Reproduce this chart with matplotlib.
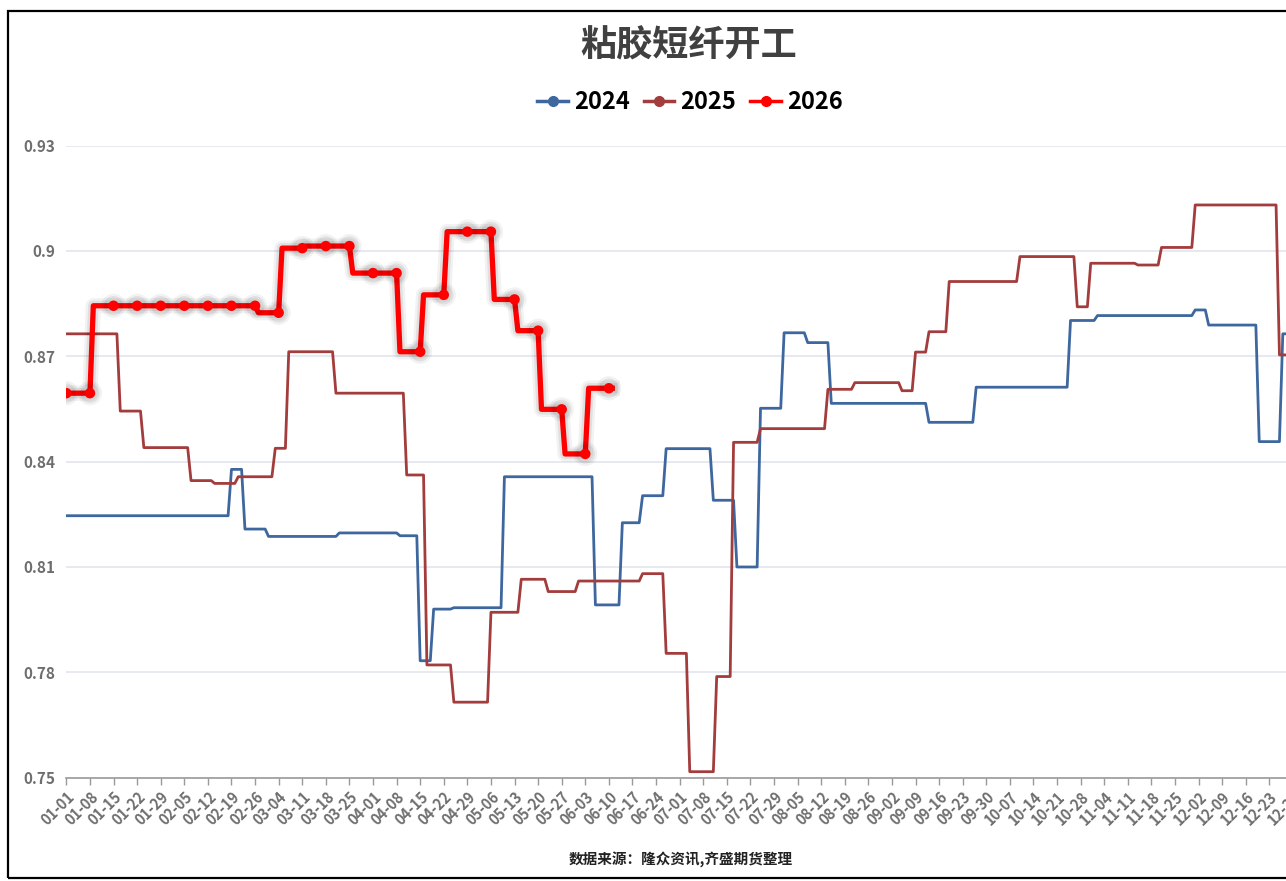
import numpy as np
import pandas as pd
import matplotlib
matplotlib.use('Agg')
import matplotlib.pyplot as plt
import matplotlib.patheffects as pe
from matplotlib.lines import Line2D
from matplotlib.patches import Rectangle

plt.rcParams['font.family'] = ['Noto Sans CJK SC', 'DejaVu Sans']

# x axis is month-day of a leap year, one category per day
days = pd.date_range('2024-01-01', '2024-12-31', freq='D')
day_labels = list(days.strftime('%m-%d'))

# weekly operating rate, stored as (first day index of level, level)
start_2024 = [0, 49, 53, 60, 81, 99, 105, 109, 115, 130, 157, 165, 171, 178,
              192, 199, 206, 213, 220, 227, 256, 270, 298, 306, 335, 339, 354, 361]
rate_2024 = [0.8246, 0.8378, 0.8208, 0.8187, 0.8197, 0.8189, 0.7833, 0.7980, 0.7984,
             0.8357, 0.7992, 0.8226, 0.8303, 0.8437, 0.8290, 0.8100, 0.8552, 0.8767,
             0.8739, 0.8566, 0.8512, 0.8612, 0.8802, 0.8816, 0.8832, 0.8789, 0.8457, 0.8764]
end_2024 = 366

start_2025 = [0, 16, 23, 37, 44, 51, 62, 66, 80, 101, 107, 115, 126, 135, 143, 152,
              171, 178, 185, 193, 198, 206, 226, 234, 248, 252, 256, 262, 283, 300,
              304, 318, 325, 335, 360]
rate_2025 = [0.8764, 0.8544, 0.8440, 0.8346, 0.8338, 0.8357, 0.8438, 0.8713, 0.8595,
             0.8362, 0.7821, 0.7715, 0.7971, 0.8065, 0.8030, 0.8060, 0.8081, 0.7854,
             0.7517, 0.7788, 0.8455, 0.8494, 0.8606, 0.8625, 0.8602, 0.8712, 0.8770,
             0.8913, 0.8984, 0.8841, 0.8965, 0.8960, 0.9010, 0.9131, 0.8704]
end_2025 = 366

start_2026 = [0, 8, 57, 64, 71, 85, 99, 106, 113, 127, 134, 141, 148, 155]
rate_2026 = [0.8595, 0.8844, 0.8824, 0.9008, 0.9014, 0.8937, 0.8713, 0.8875, 0.9055,
             0.8862, 0.8773, 0.8549, 0.8422, 0.8609]
end_2026 = 163

y_ticks = [0.75, 0.78, 0.81, 0.84, 0.87, 0.90, 0.93]
y_labels = ['0.75', '0.78', '0.81', '0.84', '0.87', '0.9', '0.93']

c24 = '#3d679e'
c25 = '#a33c3c'
c26 = '#ff0000'


def expand(starts, vals, end):
    # hold each weekly level until the next one
    lengths = np.diff(list(starts) + [end])
    return np.repeat(vals, lengths)


s24 = expand(start_2024, rate_2024, end_2024)
s25 = expand(start_2025, rate_2025, end_2025)
s26 = expand(start_2026, rate_2026, end_2026)

fig = plt.figure(figsize=(12.86, 8.81), dpi=100)
ax = fig.add_axes([0.0516, 0.1173, 0.9564, 0.7174])

ax.plot(np.arange(len(s24)), s24, color=c24, lw=2.0, solid_joinstyle='round', zorder=3)
ax.plot(np.arange(len(s25)), s25, color=c25, lw=2.0, solid_joinstyle='round', zorder=3)
ax.plot(np.arange(len(s26)), s26, color=c26, lw=3.8, marker='o', ms=6.5, markevery=7,
        solid_joinstyle='round', zorder=4,
        path_effects=[pe.Stroke(linewidth=11, foreground='#000000', alpha=0.05),
                      pe.Stroke(linewidth=7.5, foreground='#000000', alpha=0.07),
                      pe.Normal()])

ax.set_xlim(0, 365)
ax.set_ylim(0.75, 0.93)
ax.set_yticks(y_ticks)
ax.set_yticklabels(y_labels)
ax.set_xticks(range(0, 366, 7))
ax.set_xticklabels(day_labels[::7], rotation=45, ha='right', va='top',
                   rotation_mode='anchor')

ax.grid(axis='y', color='#e4e7ef', lw=1.3)
ax.set_axisbelow(True)
for side in ['top', 'right', 'left']:
    ax.spines[side].set_visible(False)
ax.spines['bottom'].set_color('#9a9a9a')
ax.spines['bottom'].set_linewidth(1.2)
ax.tick_params(axis='y', length=0, pad=8, labelsize=11, labelcolor='#6e6e6e')
ax.tick_params(axis='x', length=5, width=1, color='#9a9a9a', pad=3, labelsize=10.5,
               labelcolor='#6e6e6e')
for lab in ax.get_xticklabels() + ax.get_yticklabels():
    lab.set_fontweight('bold')

fig.text(689 / 1286, 1 - 46 / 881, '粘胶短纤开工', ha='center', va='center',
         fontsize=26, fontweight='bold', color='#404040')

handles = [Line2D([], [], color=c, lw=2.5, marker='o', ms=7) for c in [c24, c25, c26]]
fig.legend(handles, ['2024', '2025', '2026'], loc='center', ncol=3, frameon=False,
           bbox_to_anchor=(690 / 1286, 1 - 102 / 881), handlelength=1.3,
           handletextpad=0.25, columnspacing=0.6,
           prop={'size': 17, 'weight': 'bold'})

fig.text(681 / 1286, 1 - 860 / 881, '数据来源：隆众资讯,齐盛期货整理', ha='center',
         va='center', fontsize=10.5, fontweight='bold', color='#222222')

fig.add_artist(Rectangle((8 / 1286, 3 / 881), 1.0, 867 / 881, transform=fig.transFigure,
                         fill=False, lw=1.6, edgecolor='black', clip_on=False))

fig.savefig('out.png', dpi=100)
